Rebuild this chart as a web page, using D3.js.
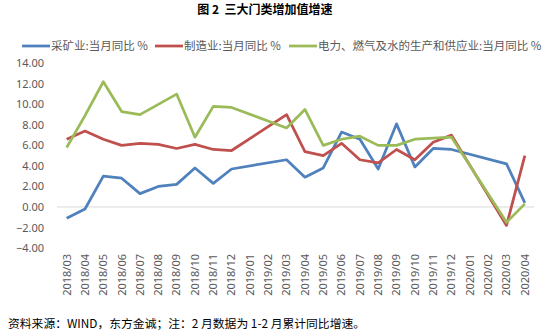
<!DOCTYPE html>
<html><head><meta charset="utf-8">
<script src="https://cdn.jsdelivr.net/npm/d3@7"></script>
<style>
html,body{margin:0;padding:0;background:#fff;}
svg{display:block;font-family:"Noto Sans","Noto Sans CJK SC",sans-serif;}
</style></head>
<body><svg id="c" width="550" height="333"></svg>
<script>
const title = "图 2\u00a0\u00a0三大门类增加值增速";
const source = "资料来源：WIND，东方金诚；注：2 月数据为 1-2 月累计同比增速。";
const months = ["2018/03","2018/04","2018/05","2018/06","2018/07","2018/08","2018/09","2018/10","2018/11","2018/12",
  "2019/01","2019/02","2019/03","2019/04","2019/05","2019/06","2019/07","2019/08","2019/09","2019/10","2019/11","2019/12",
  "2020/01","2020/02","2020/03","2020/04"];
const seriesNames = ["采矿业:当月同比 %","制造业:当月同比 %","电力、燃气及水的生产和供应业:当月同比 %"];
const mining = [-1.1,-0.2,3.0,2.8,1.3,2.0,2.2,3.8,2.3,3.7,null,null,4.6,2.9,3.8,7.3,6.6,3.7,8.1,3.9,5.7,5.6,null,null,4.2,0.4];
const manufacturing = [6.6,7.4,6.6,6.0,6.2,6.1,5.7,6.1,5.6,5.5,null,null,9.0,5.4,5.0,6.2,4.6,4.3,5.6,4.6,6.3,7.0,null,null,-1.8,5.0];
const utilities = [5.8,8.9,12.2,9.3,9.0,10.0,11.0,6.8,9.8,9.7,null,null,7.7,9.5,6.0,6.6,6.9,6.0,6.0,6.6,6.7,6.8,null,null,-1.5,0.3];
const yTicks = [-4,-2,0,2,4,6,8,10,12,14];
const colors = ["#4F81BD","#C0504D","#9BBB59"];

const svg = d3.select("#c");
const x = d3.scaleBand().domain(months).range([57.5,534]);
const y = d3.scaleLinear().domain([-4,14]).range([248,63.3]);

svg.append("text").attr("x",265).attr("y",14).attr("text-anchor","middle")
  .attr("font-size","12px").attr("font-weight","bold").attr("fill","#000")
  .attr("font-family","Noto Sans CJK SC").text(title);

// legend
const legX = [22,155,289];
seriesNames.forEach((n,i)=>{
  const g = svg.append("g").attr("transform",`translate(${legX[i]},46)`);
  g.append("line").attr("x1",0).attr("x2",28).attr("y1",0).attr("y2",0)
    .attr("stroke",colors[i]).attr("stroke-width",2.75);
  g.append("text").attr("x",29).attr("y",4).attr("font-size","11.5px").attr("fill","#595959")
    .attr("font-family","Noto Sans CJK SC").text(n);
});

// zero line
svg.append("line").attr("x1",57).attr("x2",534).attr("y1",y(0)).attr("y2",y(0))
  .attr("stroke","#D9D9D9").attr("stroke-width",1);

// y axis
const yAxis = d3.axisLeft(y).tickValues(yTicks).tickFormat(d3.format(".2f")).tickSize(0).tickPadding(0);
const yg = svg.append("g").attr("transform","translate(44,0)").call(yAxis);
yg.select(".domain").remove();
yg.selectAll("text").attr("font-size","11px").attr("fill","#595959").attr("font-family","Noto Sans");

// x axis
const xAxis = d3.axisBottom(x).tickSize(0).tickPadding(0);
const xg = svg.append("g").attr("transform","translate(0,254)").call(xAxis);
xg.select(".domain").remove();
xg.selectAll("text").attr("font-size","11px").attr("fill","#595959").attr("font-family","Noto Sans")
  .attr("text-anchor","end").attr("transform","rotate(-90)").attr("dx",0).attr("dy","0.35em")
  .attr("x",0).attr("y",0);

// lines
const line = d3.line().x(d=>x(d.m)+x.bandwidth()/2).y(d=>y(d.v));
[mining,manufacturing,utilities].forEach((arr,i)=>{
  const data = months.map((m,j)=>({m,v:arr[j]})).filter(d=>d.v!==null);
  svg.append("path").datum(data).attr("d",line).attr("fill","none")
    .attr("stroke",colors[i]).attr("stroke-width",2.75).attr("stroke-linejoin","round");
});

svg.append("text").attr("x",8).attr("y",328).attr("font-size","11.8px").attr("fill","#000")
  .attr("font-family","Noto Sans CJK SC").text(source);
</script></body></html>
